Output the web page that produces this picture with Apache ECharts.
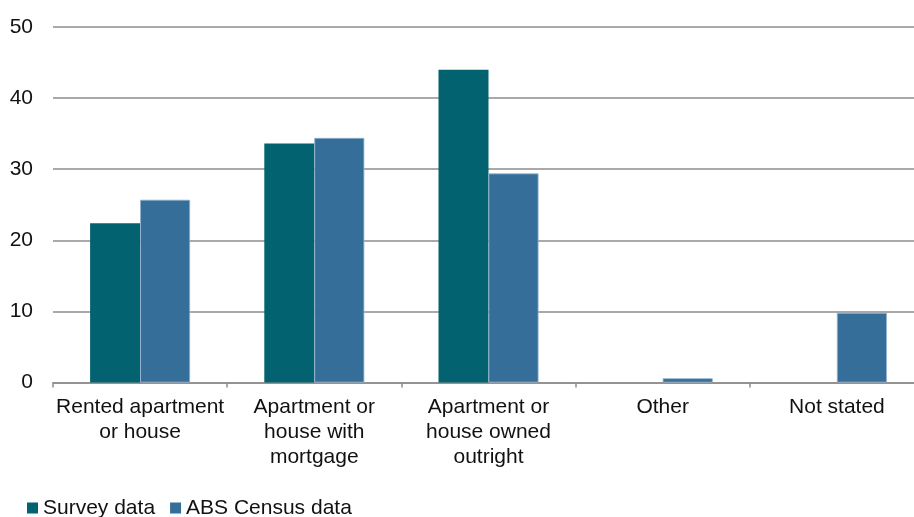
<!DOCTYPE html>
<html>
<head>
<meta charset="utf-8">
<title>Housing tenure</title>
<script src="https://cdn.jsdelivr.net/npm/echarts@6/dist/echarts.min.js"></script>
<style>
  html, body { margin: 0; padding: 0; background: #ffffff; }
  #chart { width: 914px; height: 517px; }
</style>
</head>
<body>
<div id="chart"></div>
<script>
// Housing tenure: survey respondents vs ABS Census (%)
const categories = [
  'Rented apartment\nor house',
  'Apartment or\nhouse with\nmortgage',
  'Apartment or\nhouse owned\noutright',
  'Other',
  'Not stated'
];
const surveyData = [22.4, 33.6, 44.0, 0, 0];
const censusData = [25.7, 34.4, 29.4, 0.6, 9.8];
const yTicks = { min: 0, max: 50, interval: 10 };

const FONT = '"Liberation Sans", Arial, sans-serif';

const chart = echarts.init(document.getElementById('chart'), null, { renderer: 'canvas' });

chart.setOption({
  animation: false,
  backgroundColor: '#ffffff',
  textStyle: { fontFamily: FONT },
  grid: {
    left: 53,
    top: 27,
    width: 871,
    height: 355.5,
    containLabel: false,
    outerBoundsMode: 'none'
  },
  legend: {
    left: 27,
    top: 496,
    padding: 0,
    itemWidth: 11,
    itemHeight: 11,
    itemGap: 15,
    icon: 'rect',
    itemStyle: { borderWidth: 0 },
    textStyle: { fontFamily: FONT, fontSize: 21, color: '#111', lineHeight: 24 },
    data: ['Survey data', 'ABS Census data']
  },
  xAxis: {
    type: 'category',
    data: categories,
    boundaryGap: true,
    axisLine: { show: true, lineStyle: { color: '#8c8c8c', width: 1.5 } },
    axisTick: { show: true, length: 5, interval: 0, lineStyle: { color: '#8c8c8c', width: 1.5 } },
    axisLabel: {
      interval: 0,
      margin: 12,
      fontFamily: FONT,
      fontSize: 21,
      lineHeight: 25,
      color: '#111',
      align: 'center'
    },
    splitLine: { show: false }
  },
  yAxis: {
    type: 'value',
    min: yTicks.min,
    max: yTicks.max,
    interval: yTicks.interval,
    axisLine: { show: false },
    axisTick: { show: false },
    axisLabel: { margin: 20, fontFamily: FONT, fontSize: 21, color: '#111' },
    splitLine: { show: true, lineStyle: { color: '#8c8c8c', width: 1.5 } }
  },
  series: [
    {
      name: 'Survey data',
      type: 'bar',
      data: surveyData,
      barWidth: 50,
      barGap: '0%',
      itemStyle: { color: '#02626f', borderWidth: 0 }
    },
    {
      name: 'ABS Census data',
      type: 'bar',
      data: censusData,
      barWidth: 50,
      barGap: '0%',
      itemStyle: { color: '#356f99', borderColor: '#8fb3d0', borderWidth: 0.8 }
    }
  ]
});
</script>
</body>
</html>
